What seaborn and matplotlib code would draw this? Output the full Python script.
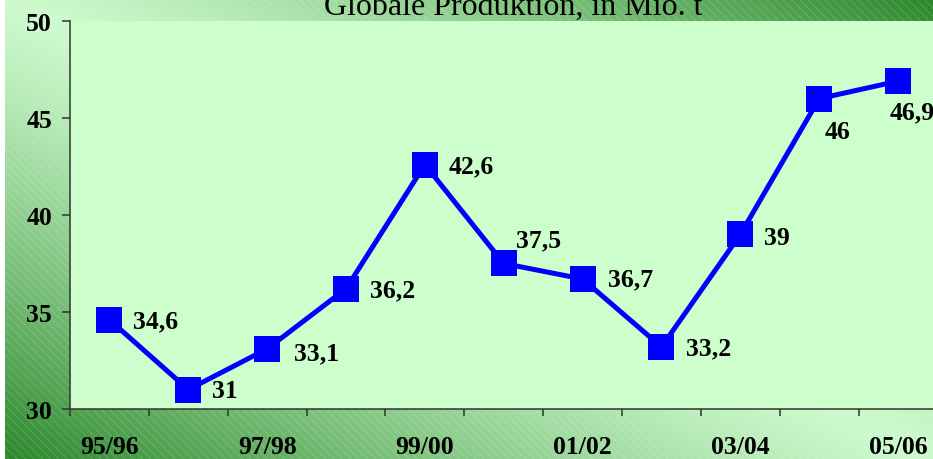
import numpy as np
import pandas as pd
import matplotlib
matplotlib.use('Agg')
import matplotlib.pyplot as plt
import seaborn as sns
from matplotlib.patches import Rectangle

# Data
seasons = ['95/96', '96/97', '97/98', '98/99', '99/00', '00/01',
           '01/02', '02/03', '03/04', '04/05', '05/06']
production = [34.6, 31, 33.1, 36.2, 42.6, 37.5, 36.7, 33.2, 39, 46, 46.9]
shown_labels = ['95/96', '97/98', '99/00', '01/02', '03/04', '05/06']
y_ticks = [30, 35, 40, 45, 50]

# label offsets (points) as placed in the original
label_dx = [17, 17, 19, 17, 17, 9, 18, 18, 17, 4, -6]
label_dy = [-1, -1, -3, -1, -1, 17, 0, -1, -2, -24, -22]

sns.set_style('white')
plt.rcParams['font.family'] = ['Liberation Serif', 'DejaVu Serif']
plt.rcParams['hatch.linewidth'] = 0.6

W, H = 933, 460
fig = plt.figure(figsize=(W / 100, H / 100), dpi=100)
fig.patch.set_facecolor('white')

# green diagonal gradient behind everything
bg = fig.add_axes([5 / W, 0, 1 - 5 / W, 1], zorder=0)
u = np.linspace(0, 1, 400)[None, :]
v = np.linspace(0, 1, 200)[:, None]
d = np.abs(u - v)
t = np.clip(1 - d ** 1.25, 0, 1)
dark = np.array([44, 136, 44]) / 255
light = np.array([204, 250, 204]) / 255
img = dark[None, None, :] * (1 - t[..., None]) + light[None, None, :] * t[..., None]
bg.imshow(img, aspect='auto', extent=[0, 1, 1, 0], interpolation='bilinear')
bg.add_patch(Rectangle((0, 0), 1, 1, transform=bg.transAxes, fill=False,
                       hatch='\\\\\\\\', edgecolor=(1, 1, 1, 0.18), linewidth=0))
bg.set_xlim(0, 1)
bg.set_ylim(1, 0)
bg.axis('off')

left, right, bottom, top = 70, 937.5, 410, 22
ax = fig.add_axes([left / W, 1 - bottom / H, (right - left) / W, (bottom - top) / H], zorder=1)
ax.set_facecolor('#ccffcc')

df = pd.DataFrame({'season': seasons, 'production': production})
df['pos'] = np.arange(len(df))

sns.lineplot(data=df, x='pos', y='production', ax=ax, color='#0000ff',
             linewidth=3.6, marker='s', markersize=18.5, markeredgewidth=0,
             markerfacecolor='#0000ff', clip_on=False)

for i, row in df.iterrows():
    txt = f"{row['production']:g}".replace('.', ',')
    ax.annotate(txt, (row['pos'], row['production']),
                xytext=(label_dx[i], label_dy[i]), textcoords='offset points',
                ha='left', va='center', fontsize=18.5, fontweight='bold',
                color='black', annotation_clip=False)

ax.set_xlim(-0.5, len(seasons) - 0.5)
ax.set_ylim(30, 50)
ax.set_yticks(y_ticks)
ax.set_yticklabels([str(y) for y in y_ticks], fontsize=18.5, fontweight='bold')
ax.tick_params(axis='y', length=6, width=1.1, color='#333333', labelcolor='black',
               pad=7, direction='out', left=True)

ax.set_xticks([seasons.index(s) for s in shown_labels])
ax.set_xticklabels(shown_labels, fontsize=18.5, fontweight='bold')
ax.set_xticks(np.arange(-0.5, len(seasons), 1.0), minor=True)
ax.tick_params(axis='x', which='major', length=0, pad=19, labelcolor='black')
ax.tick_params(axis='x', which='minor', length=5, width=1.1, color='#333333',
               direction='out', bottom=True)

ax.set_xlabel('')
ax.set_ylabel('')
for s in ['top', 'right']:
    ax.spines[s].set_visible(False)
for s in ['left', 'bottom']:
    ax.spines[s].set_color('#333333')
    ax.spines[s].set_linewidth(1.1)

fig.text(513 / W, 1 - 15 / H, 'Globale Produktion, in Mio. t', ha='center',
         va='baseline', fontsize=23, color='black', zorder=2)

fig.savefig('out.png', dpi=100)
